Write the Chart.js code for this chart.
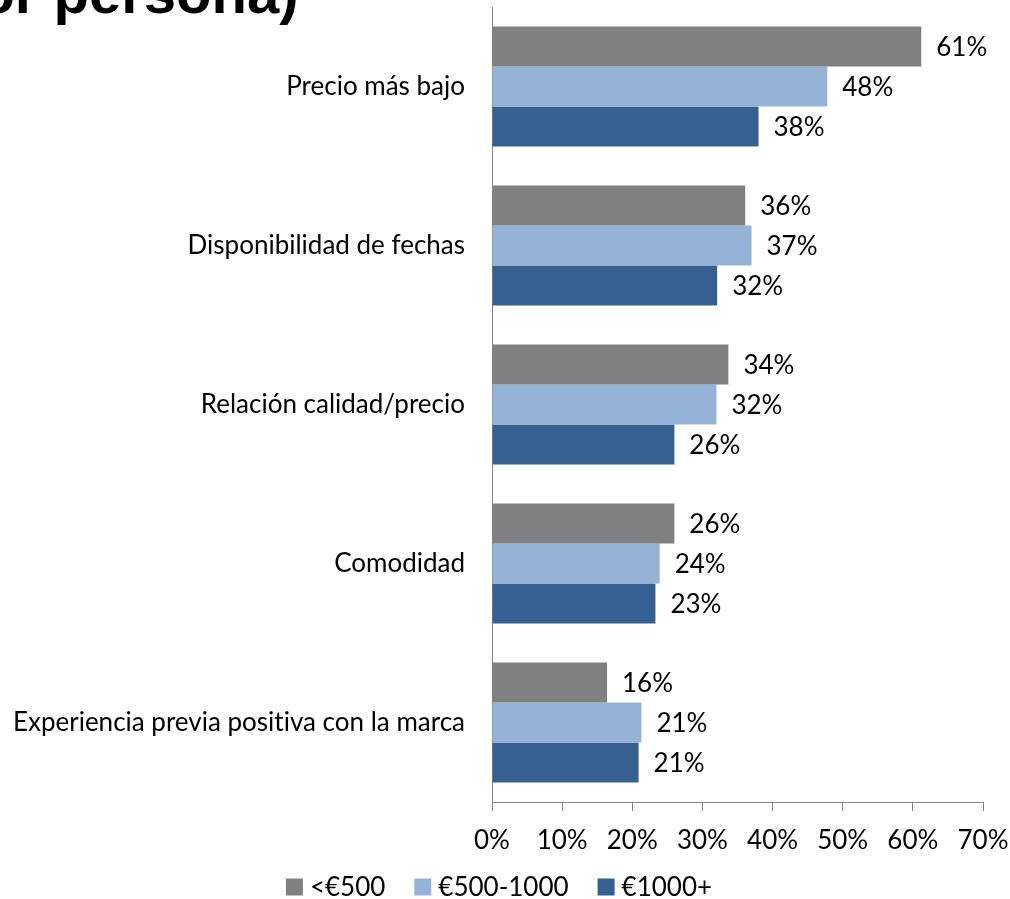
<!DOCTYPE html>
<html>
<head>
<meta charset="utf-8">
<script src="https://cdn.jsdelivr.net/npm/chart.js@4.4.0/dist/chart.umd.min.js"></script>
<style>
  html, body { margin: 0; padding: 0; background: #fff; overflow: hidden; }
  #contenedor { position: relative; width: 1010px; height: 899px; overflow: hidden; }
  #grafico { position: absolute; left: 0; top: 0; }
  #titulo {
    position: absolute; left: -56px; top: -36px;
    font: bold 58px "Liberation Sans", Arial, sans-serif;
    line-height: 58px; white-space: nowrap; color: #000;
  }
</style>
</head>
<body>
<div id="contenedor">
  <canvas id="grafico" width="1010" height="899"></canvas>
  <div id="titulo">por persona)</div>
</div>
<script>
// motivos de elección, por gasto por persona
var categorias = [
    'Precio más bajo',
    'Disponibilidad de fechas',
    'Relación calidad/precio',
    'Comodidad',
    'Experiencia previa positiva con la marca'
];
var nombresSeries = ['<€500', '€500-1000', '€1000+'];
var menos500 = [61.2, 36.1, 33.7, 26.0, 16.4];
var de500a1000 = [47.8, 37.0, 32.0, 23.9, 21.3];
var mas1000 = [38.0, 32.1, 26.0, 23.3, 20.9];
var colores = ['#808080', '#95B3D7', '#366092'];
var ejeMin = 0;
var ejeMax = 70;
var ejePaso = 10;

var fuente = 'Lato, "Open Sans", sans-serif';
var tamFuente = 26;

// sin ligaduras (la "ti" de Lato)
var sinLigaduras = {
    id: 'sinLigaduras',
    beforeDraw: function (chart) {
        chart.ctx.textRendering = 'optimizeSpeed';
    }
};

// etiquetas de porcentaje al final de cada barra
var etiquetasBarras = {
    id: 'etiquetasBarras',
    afterDatasetsDraw: function (chart) {
        var ctx = chart.ctx;
        ctx.save();
        ctx.font = tamFuente + 'px ' + fuente;
        ctx.fillStyle = '#000';
        ctx.textAlign = 'left';
        ctx.textBaseline = 'middle';
        chart.data.datasets.forEach(function (ds, i) {
            chart.getDatasetMeta(i).data.forEach(function (barra, j) {
                ctx.fillText(Math.round(ds.data[j]) + '%', barra.x + 15, barra.y + 1);
            });
        });
        ctx.restore();
    }
};

// leyenda abajo: cuadrado de 17px, 7px hasta el texto, 29px entre elementos
var leyendaAbajo = {
    id: 'leyendaAbajo',
    afterDraw: function (chart) {
        var ctx = chart.ctx;
        var caja = 17, hueco = 7, separacion = 29;
        ctx.save();
        ctx.font = tamFuente + 'px ' + fuente;
        ctx.textBaseline = 'middle';
        ctx.textAlign = 'left';
        var anchos = chart.data.datasets.map(function (ds) {
            return caja + hueco + ctx.measureText(ds.label).width;
        });
        var total = anchos.reduce(function (a, b) { return a + b; }, 0) + separacion * (anchos.length - 1);
        var x = chart.width / 2 - 6 - total / 2;
        var y = chart.chartArea.bottom + 85;
        chart.data.datasets.forEach(function (ds, i) {
            ctx.fillStyle = ds.backgroundColor;
            ctx.fillRect(x, y - caja / 2, caja, caja);
            ctx.fillStyle = '#000';
            ctx.fillText(ds.label, x + caja + hueco, y + 1);
            x += anchos[i] + separacion;
        });
        ctx.restore();
    }
};

var ctx = document.getElementById('grafico').getContext('2d');

var grafico = new Chart(ctx, {
    type: 'bar',
    data: {
        labels: categorias,
        datasets: [
            { label: nombresSeries[0], data: menos500, backgroundColor: colores[0] },
            { label: nombresSeries[1], data: de500a1000, backgroundColor: colores[1] },
            { label: nombresSeries[2], data: mas1000, backgroundColor: colores[2] }
        ]
    },
    options: {
        indexAxis: 'y',
        responsive: false,
        animation: false,
        devicePixelRatio: 1,
        datasets: {
            bar: { categoryPercentage: 0.755, barPercentage: 1.0 }
        },
        layout: {
            padding: { top: 7, right: 27, bottom: 47, left: 0 }
        },
        scales: {
            x: {
                min: ejeMin,
                max: ejeMax,
                grid: { drawOnChartArea: false, drawTicks: true, tickLength: 9, color: '#868686' },
                border: { color: '#868686', width: 1 },
                ticks: {
                    stepSize: ejePaso,
                    padding: 14,
                    maxRotation: 0,
                    color: '#000',
                    font: { family: fuente, size: tamFuente, lineHeight: 1.2 },
                    callback: function (v) { return v + '%'; }
                },
                afterFit: function (escala) {
                    escala.height = 50;
                    escala.paddingLeft = 0;
                    escala.paddingRight = 0;
                }
            },
            y: {
                grid: { display: false, drawTicks: false },
                border: { color: '#868686', width: 1 },
                ticks: {
                    padding: 27,
                    color: '#000',
                    font: { family: fuente, size: tamFuente }
                },
                afterFit: function (escala) {
                    escala.width = 492;
                    escala.paddingTop = 0;
                    escala.paddingBottom = 0;
                }
            }
        },
        plugins: {
            legend: { display: false },
            tooltip: { enabled: false }
        }
    },
    plugins: [sinLigaduras, etiquetasBarras, leyendaAbajo]
});
</script>
</body>
</html>
